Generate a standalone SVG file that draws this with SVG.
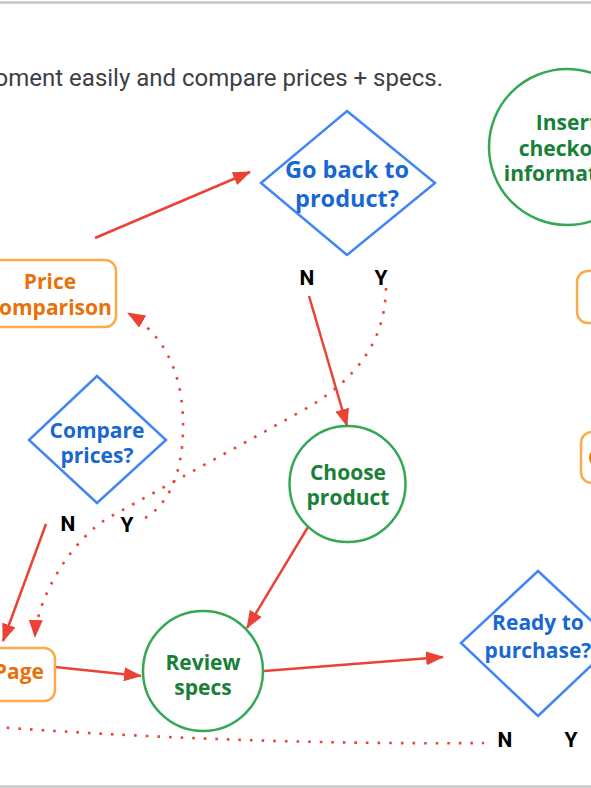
<svg xmlns="http://www.w3.org/2000/svg" width="591" height="788" viewBox="0 0 591 788">
<defs>
<style>
.bg{fill:#ffffff}
.frame{stroke:#c6c6c6;stroke-width:2.5}
.rect{fill:#ffffff;stroke:#fbab47;stroke-width:2.5}
.dia{fill:#ffffff;stroke:#4285f4;stroke-width:2.5}
.circ{fill:#ffffff;stroke:#34a853;stroke-width:2.5}
.t{font-family:"Open Sans","Liberation Sans",sans-serif;font-weight:700;font-size:21px;text-anchor:middle}
.to{fill:#e8710a}
.tb{fill:#1967d2}
.tg{fill:#188038}
.lbl{font-family:Roboto,"Liberation Sans",sans-serif;font-weight:700;font-size:21px;fill:#000000;text-anchor:middle}
.head{font-family:Roboto,"Liberation Sans",sans-serif;font-size:24px;fill:#3c4043}
.solid{fill:none;stroke:#ea4335;stroke-width:2.5}
.dot{fill:none;stroke:#ea4335;stroke-width:2.6;stroke-dasharray:2.6 9}
</style>
<marker id="ah" markerUnits="userSpaceOnUse" markerWidth="18" markerHeight="14" refX="17" refY="7" orient="auto">
<path d="M0,0 L18,7 L0,14 Z" fill="#ea4335"/>
</marker>
</defs>
<rect class="bg" x="0" y="0" width="591" height="788"/>
<line class="frame" x1="0" y1="2.5" x2="591" y2="2.5"/>
<line class="frame" x1="0" y1="786.5" x2="591" y2="786.5"/>
<text class="head" x="443" y="86" text-anchor="end">oment easily and compare prices + specs.</text>

<g id="connectors">
<line class="solid" x1="95" y1="238" x2="250" y2="172" marker-end="url(#ah)"/>
<line class="solid" x1="309" y1="296" x2="347" y2="426" marker-end="url(#ah)"/>
<line class="solid" x1="308" y1="527" x2="247" y2="628" marker-end="url(#ah)"/>
<line class="solid" x1="55" y1="667" x2="141" y2="676" marker-end="url(#ah)"/>
<line class="solid" x1="264" y1="671" x2="443" y2="657" marker-end="url(#ah)"/>
<line class="solid" x1="46" y1="524" x2="3" y2="641" marker-end="url(#ah)"/>
<path class="dot" d="M386 288 C385 340 358 380 300 412 C237 447 173 482 110 517 C75 536 37 595 35 637" marker-end="url(#ah)"/>
<path class="dot" d="M145 518 C175 500 184 460 183 420 C182 370 162 333 128 313" marker-end="url(#ah)"/>
<path class="dot" d="M-5 727 Q250 745 484 743"/>
</g>

<g id="price-comparison">
<rect class="rect" x="-16" y="260" width="132" height="67" rx="11"/>
<text class="t to" x="50" y="289">Price</text>
<text class="t to" x="50" y="315">comparison</text>
</g>

<g id="compare-prices">
<polygon class="dia" points="97,376 166,440 97,503 29,440"/>
<text class="t tb" x="97" y="438">Compare</text>
<text class="t tb" x="97" y="463">prices?</text>
<text class="lbl" x="68" y="531">N</text>
<text class="lbl" x="127" y="532">Y</text>
</g>

<g id="go-back">
<polygon class="dia" points="347,111 435,183 347,255 261,183"/>
<text class="t tb" x="347" y="178" style="font-size:23.5px">Go back to</text>
<text class="t tb" x="347" y="207" style="font-size:23.5px">product?</text>
<text class="lbl" x="307" y="285">N</text>
<text class="lbl" x="381" y="285">Y</text>
</g>

<g id="insert-checkout">
<circle class="circ" cx="567" cy="147" r="78"/>
<text class="t tg" x="567" y="130">Insert</text>
<text class="t tg" x="567" y="156">checkout</text>
<text class="t tg" x="567" y="181">information</text>
</g>

<g id="right-box-1">
<rect class="rect" x="577" y="271" width="80" height="52" rx="11"/>
</g>

<g id="right-box-2">
<rect class="rect" x="581" y="432" width="80" height="51" rx="11"/>
<text class="t to" x="588" y="465" style="text-anchor:start">C</text>
</g>

<g id="choose-product">
<circle class="circ" cx="347.5" cy="484" r="58"/>
<text class="t tg" x="348" y="480">Choose</text>
<text class="t tg" x="348" y="505">product</text>
</g>

<g id="page">
<rect class="rect" x="-80" y="648" width="135" height="53" rx="11"/>
<text class="t to" x="44" y="679" style="text-anchor:end">Page</text>
</g>

<g id="review-specs">
<circle class="circ" cx="203" cy="671" r="60"/>
<text class="t tg" x="203" y="670">Review</text>
<text class="t tg" x="203" y="695">specs</text>
</g>

<g id="ready-to-purchase">
<polygon class="dia" points="538,571 615,643 538,716 461,643"/>
<text class="t tb" x="538" y="630">Ready to</text>
<text class="t tb" x="538" y="658">purchase?</text>
<text class="lbl" x="505" y="747">N</text>
<text class="lbl" x="571" y="747">Y</text>
</g>
</svg>
